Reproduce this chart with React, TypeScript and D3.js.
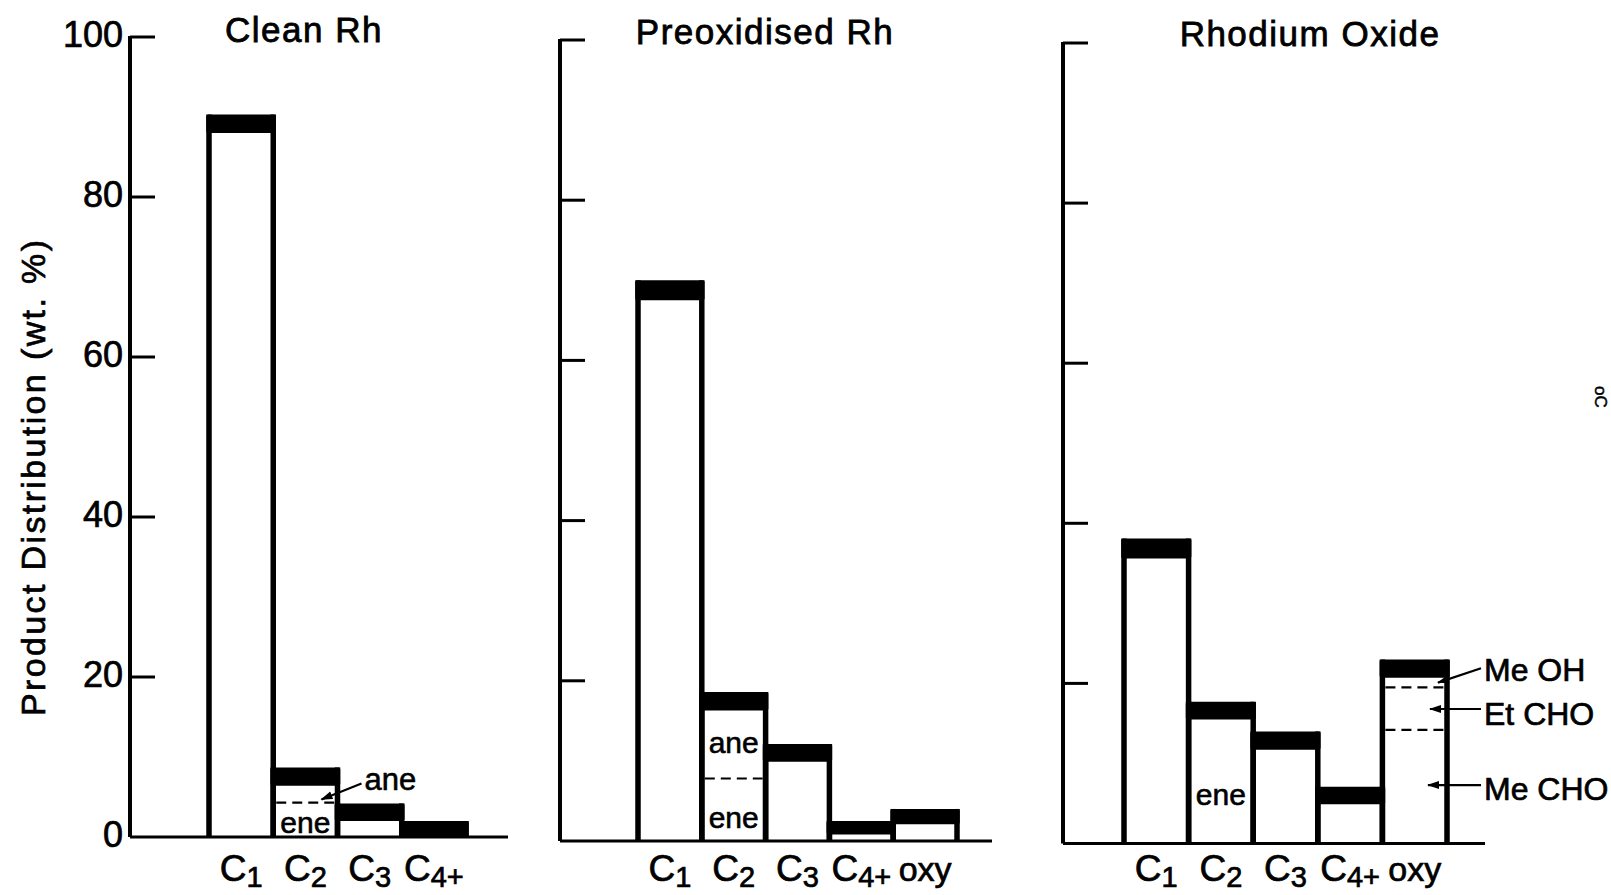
import React, { useEffect, useRef } from 'react';
import * as d3 from 'd3';

const WIDTH = 1611;
const HEIGHT = 895;
const FONT = '"Liberation Sans", Arial, sans-serif';

const yTicks = [0, 20, 40, 60, 80, 100];
const yTitle = 'Product Distribution (wt. %)';

// Clean Rh
const cleanCats = ['C1', 'C2', 'C3', 'C4+'];
const cleanLow = [88.0, 6.4, 2.0, 0.0];
const cleanHigh = [90.3, 8.7, 4.2, 2.0];
const cleanSplits = [{ cat: 'C2', value: 4.3 }];

// Preoxidised Rh
const preoxCats = ['C1', 'C2', 'C3', 'C4+', 'oxy'];
const preoxLow = [67.5, 16.3, 9.9, 0.8, 2.1];
const preoxHigh = [70.0, 18.6, 12.1, 2.5, 4.0];
const preoxSplits = [{ cat: 'C2', value: 7.8 }];

// Rhodium Oxide
const oxideCats = ['C1', 'C2', 'C3', 'C4+', 'oxy'];
const oxideLow = [35.6, 15.5, 11.7, 4.9, 20.7];
const oxideHigh = [38.1, 17.7, 14.0, 7.1, 23.0];
const oxideSplits = [{ cat: 'oxy', value: 19.5 }, { cat: 'oxy', value: 14.2 }];

const panels = [
  { title: 'Clean Rh', cats: cleanCats, low: cleanLow, high: cleanHigh, splits: cleanSplits,
    axisX: 130, axisEnd: 508, y0: 837, y100: 37, barFrom: 209, barTo: 466, titleX: 304, titleY: 42, labels: true },
  { title: 'Preoxidised Rh', cats: preoxCats, low: preoxLow, high: preoxHigh, splits: preoxSplits,
    axisX: 560, axisEnd: 992, y0: 841, y100: 40, barFrom: 638, barTo: 957, titleX: 765, titleY: 44, labels: false },
  { title: 'Rhodium Oxide', cats: oxideCats, low: oxideLow, high: oxideHigh, splits: oxideSplits,
    axisX: 1063, axisEnd: 1485, y0: 843.5, y100: 43, barFrom: 1124, barTo: 1447, titleX: 1310, titleY: 46, labels: false },
];

// thicken the lettering a little, like the pen-drawn original
const ink = (sel, w = 0.7) => sel.attr('fill', '#000').attr('stroke', '#000').attr('stroke-width', w);

function App() {
  const ref = useRef(null);

  useEffect(() => {
    const svg = d3.select(ref.current);
    svg.selectAll('*').remove();

    svg.append('defs').append('marker')
      .attr('id', 'arrow')
      .attr('markerUnits', 'userSpaceOnUse')
      .attr('markerWidth', 12)
      .attr('markerHeight', 10)
      .attr('refX', 11)
      .attr('refY', 5)
      .attr('orient', 'auto')
      .append('path')
      .attr('d', 'M0,1 L12,5 L0,9 Z')
      .attr('fill', '#000');

    const scales = panels.map((p) => {
      const x = d3.scaleBand().domain(p.cats).range([p.barFrom, p.barTo]).padding(0);
      const y = d3.scaleLinear().domain([0, 100]).range([p.y0, p.y100]);
      return { x, y };
    });

    panels.forEach((p, pi) => {
      const { x, y } = scales[pi];
      const g = svg.append('g');
      const bw = x.bandwidth();

      // bars: white body with thick sides, black band at the top
      p.cats.forEach((c, i) => {
        const x0 = x(c);
        [x0, x0 + bw].forEach((sx) => {
          g.append('line')
            .attr('x1', sx).attr('x2', sx)
            .attr('y1', y(p.high[i])).attr('y2', p.y0)
            .attr('stroke', '#000').attr('stroke-width', 5.5);
        });
      });
      p.cats.forEach((c, i) => {
        g.append('rect')
          .attr('x', x(c) - 2.75)
          .attr('y', y(p.high[i]))
          .attr('width', bw + 5.5)
          .attr('height', y(p.low[i]) - y(p.high[i]))
          .attr('rx', 2)
          .attr('fill', '#000');
      });
      p.splits.forEach((s) => {
        g.append('line')
          .attr('x1', x(s.cat) + 3).attr('x2', x(s.cat) + bw - 3)
          .attr('y1', y(s.value)).attr('y2', y(s.value))
          .attr('stroke', '#000').attr('stroke-width', 2.2)
          .attr('stroke-dasharray', '10,6');
      });

      // axes
      g.append('line')
        .attr('x1', p.axisX).attr('x2', p.axisX)
        .attr('y1', y(100) - 1).attr('y2', p.y0)
        .attr('stroke', '#000').attr('stroke-width', 4);
      g.append('line')
        .attr('x1', p.axisX).attr('x2', p.axisEnd)
        .attr('y1', p.y0).attr('y2', p.y0)
        .attr('stroke', '#000').attr('stroke-width', 3);
      g.selectAll('.tick')
        .data(yTicks.filter((t) => t > 0))
        .enter().append('line')
        .attr('x1', p.axisX).attr('x2', p.axisX + 25)
        .attr('y1', (t) => y(t)).attr('y2', (t) => y(t))
        .attr('stroke', '#000').attr('stroke-width', 3);
      if (p.labels) {
        g.selectAll('.ticklabel')
          .data(yTicks)
          .enter().append('text')
          .attr('x', p.axisX - 7)
          .attr('y', (t) => y(t) + 10)
          .attr('text-anchor', 'end')
          .attr('font-size', 36)
          .call(ink)
          .text((t) => t);
      }

      // category labels with subscripts
      p.cats.forEach((c) => {
        const t = g.append('text')
          .attr('x', x(c) + bw / 2)
          .attr('y', 881)
          .attr('text-anchor', 'middle')
          .attr('font-size', c.startsWith('C') ? 37 : 34)
          .call(ink);
        if (c.startsWith('C')) {
          t.append('tspan').text('C');
          t.append('tspan').attr('font-size', 29).attr('dy', 6).text(c.slice(1));
        } else {
          t.text(c);
        }
      });

      g.append('text')
        .attr('x', p.titleX)
        .attr('y', p.titleY)
        .attr('text-anchor', 'middle')
        .attr('font-size', 35)
        .attr('letter-spacing', 1.5)
        .call(ink, 0.8)
        .text(p.title);
    });

    // annotations
    const note = (pi, cat, value, text, size = 30) => {
      const { x, y } = scales[pi];
      svg.append('text')
        .attr('x', x(cat) + x.bandwidth() / 2)
        .attr('y', y(value))
        .attr('text-anchor', 'middle')
        .attr('font-size', size)
        .call(ink, 0.6)
        .text(text);
    };
    const arrow = (x1, y1, x2, y2) => {
      svg.append('line')
        .attr('x1', x1).attr('y1', y1).attr('x2', x2).attr('y2', y2)
        .attr('stroke', '#000').attr('stroke-width', 2.2)
        .attr('marker-end', 'url(#arrow)');
    };

    {
      const { x, y } = scales[0];
      note(0, 'C2', 0.5, 'ene');
      const right = x('C2') + x.bandwidth();
      svg.append('text')
        .attr('x', right + 27).attr('y', y(5.9))
        .attr('font-size', 31)
        .call(ink, 0.6)
        .text('ane');
      arrow(right + 24, y(6.7), x('C2') + x.bandwidth() * 0.75, y(4.7));
    }
    note(1, 'C2', 11, 'ane');
    note(1, 'C2', 1.6, 'ene');
    {
      const { x, y } = scales[2];
      note(2, 'C2', 4.8, 'ene');
      const tx = panels[2].axisEnd - 1;
      const ox = x('oxy') + x.bandwidth();
      [['Me OH', 20.3], ['Et CHO', 14.8], ['Me CHO', 5.4]].forEach(([s, v]) => {
        svg.append('text').attr('x', tx).attr('y', y(v)).attr('font-size', 32)
          .call(ink, 0.7).text(s);
      });
      arrow(tx - 3, y(21.9), ox - 9, y(20.1));
      arrow(tx - 3, y(16.8), ox - 17, y(16.8));
      arrow(tx - 3, y(7.3), ox - 19, y(7.3));
    }

    // y axis title
    svg.append('text')
      .attr('transform', 'translate(45, 478) rotate(-90)')
      .attr('text-anchor', 'middle')
      .attr('font-size', 34)
      .attr('textLength', 476)
      .attr('lengthAdjust', 'spacing')
      .call(ink, 0.7)
      .text(yTitle);

    // small stray mark from the scan at the right edge
    svg.append('text')
      .attr('transform', 'translate(1595, 386) rotate(90)')
      .attr('font-size', 17)
      .call(ink, 0.5)
      .text('oC');
  }, []);

  return (
    <svg
      ref={ref}
      width={WIDTH}
      height={HEIGHT}
      viewBox={`0 0 ${WIDTH} ${HEIGHT}`}
      style={{ position: 'absolute', left: 0, top: 0, background: '#fff', fontFamily: FONT }}
    />
  );
}

export default App;
